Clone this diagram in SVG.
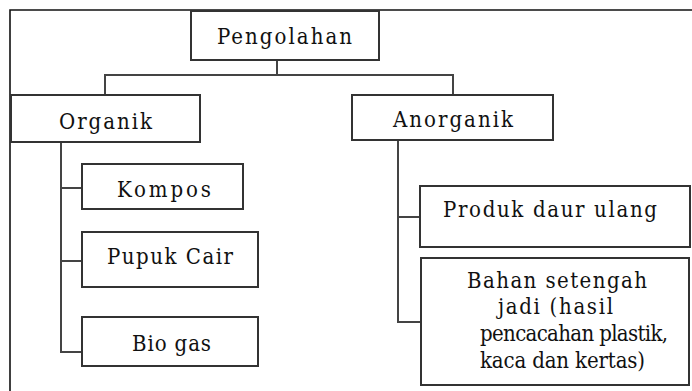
<svg xmlns="http://www.w3.org/2000/svg" width="692" height="391" viewBox="0 0 692 391">
<style>
.frame{fill:none;stroke:#111;stroke-width:1.6}
.box{fill:#fff;stroke:#333;stroke-width:2}
.con{fill:none;stroke:#444;stroke-width:2}
text{fill:#111;font-family:'DejaVu Serif Condensed','DejaVu Serif',serif;font-stretch:condensed;font-size:22px}
</style>
<rect width="692" height="391" fill="#fff"/>
<g id="frame"><path class="frame" d="M10,391 V10 H692"/></g>
<g id="connectors">
<path class="con" d="M277,60 V75 M105,95 V75 H453 V95"/>
<path class="con" d="M61,142 V352 H82 M61,188 H82 M61,261 H82"/>
<path class="con" d="M398,140 V322 H421 M398,217 H420"/>
</g>
<g id="pengolahan"><rect class="box" x="191" y="11" width="188" height="49"/><text x="217" y="44" textLength="135" lengthAdjust="spacing">Pengolahan</text></g>
<g id="organik"><rect class="box" x="11" y="95" width="189" height="47"/><text x="59" y="129" textLength="93" lengthAdjust="spacing">Organik</text></g>
<g id="anorganik"><rect class="box" x="352" y="95" width="201" height="45"/><text x="393" y="127" textLength="120" lengthAdjust="spacing">Anorganik</text></g>
<g id="kompos"><rect class="box" x="82" y="164" width="161" height="45"/><text x="117" y="197" textLength="94" lengthAdjust="spacing">Kompos</text></g>
<g id="pupuk-cair"><rect class="box" x="82" y="232" width="176" height="55"/><text x="107" y="264" textLength="126" lengthAdjust="spacing">Pupuk Cair</text></g>
<g id="bio-gas"><rect class="box" x="82" y="317" width="176" height="49"/><text x="132" y="351" textLength="79" lengthAdjust="spacing">Bio gas</text></g>
<g id="produk"><rect class="box" x="420" y="186" width="270" height="61"/><text x="443" y="217" textLength="214" lengthAdjust="spacing">Produk daur ulang</text></g>
<g id="bahan"><rect class="box" x="421" y="258" width="268" height="127"/>
<text x="467" y="288" textLength="180" lengthAdjust="spacing">Bahan setengah</text>
<text x="498" y="314" textLength="115" lengthAdjust="spacing">jadi (hasil</text>
<text x="480" y="341" textLength="188" lengthAdjust="spacing">pencacahan plastik,</text>
<text x="480" y="368" textLength="165" lengthAdjust="spacing">kaca dan kertas)</text>
</g>
</svg>
